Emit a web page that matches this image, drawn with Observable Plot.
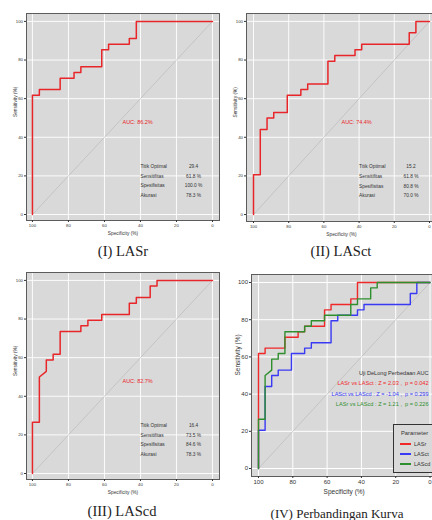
<!DOCTYPE html>
<html><head><meta charset="utf-8">
<script src="https://cdn.jsdelivr.net/npm/d3@7"></script>
<script src="https://cdn.jsdelivr.net/npm/@observablehq/plot@0.6"></script>
<style>
html,body{margin:0;padding:0;background:#fff;overflow:hidden;width:432px;height:520px}
#root{position:relative;width:432px;height:520px;overflow:hidden;background:#fff}
.panel{position:absolute}
.panel svg{overflow:visible;max-width:none !important}
.cap{position:absolute;font-family:"Liberation Serif","Times New Roman",serif;font-size:14.5px;color:#222;white-space:nowrap;transform:translate(-50%,-50%)}
.legend{position:absolute;left:393px;top:424px;width:60px;height:47px;border:1px solid #333;background:#d9d9d9;font-family:"Liberation Sans",Arial,sans-serif;font-size:5.5px;color:#333}
.legend .t{position:absolute;left:7px;top:5px;font-size:5.8px}
.legend .row{position:absolute;left:6px;height:8px}
.legend .sw{position:absolute;left:0;top:3px;width:11px;height:0;border-top:2px solid}
.legend .lb{position:absolute;left:14px;top:0;line-height:8px}
</style></head><body><div id="root"></div>
<script>
// ---------- data ----------
const specTicks = [100, 80, 60, 40, 20, 0];
const sensTicks = [0, 20, 40, 60, 80, 100];
const seriesNames = ["LASr", "LASct", "LAScd"];
const seriesColors = ["#f0282a", "#3a3af5", "#2f8f2f"];

const lasrSpec = [100, 100, 96.15, 96.15, 84.6, 84.6, 76.9, 76.9, 73.1, 73.1, 61.5, 61.5, 57.7, 57.7, 46.2, 46.2, 42.3, 42.3, 0];
const lasrSens = [0, 61.8, 61.8, 64.7, 64.7, 70.6, 70.6, 73.5, 73.5, 76.5, 76.5, 85.3, 85.3, 88.2, 88.2, 91.2, 91.2, 100, 100];

const lasctSpec = [100, 100, 96.15, 96.15, 92.3, 92.3, 88.5, 88.5, 80.8, 80.8, 73.1, 73.1, 69.2, 69.2, 57.7, 57.7, 53.8, 53.8, 42.3, 42.3, 38.5, 38.5, 11.5, 11.5, 7.7, 7.7, 0];
const lasctSens = [0, 20.6, 20.6, 44.1, 44.1, 50, 50, 52.9, 52.9, 61.8, 61.8, 64.7, 64.7, 67.6, 67.6, 79.4, 79.4, 82.4, 82.4, 85.3, 85.3, 88.2, 88.2, 94.1, 94.1, 100, 100];

const lascdSpec = [100, 100, 96.15, 96.15, 92.3, 92.3, 88.5, 88.5, 84.6, 84.6, 73.1, 73.1, 69.2, 69.2, 61.5, 61.5, 46.2, 46.2, 42.3, 42.3, 34.6, 34.6, 30.8, 30.8, 0];
const lascdSens = [0, 26.5, 26.5, 50, 52.9, 58.8, 58.8, 61.8, 61.8, 73.5, 73.5, 76.5, 76.5, 79.4, 79.4, 82.4, 82.4, 88.2, 88.2, 91.2, 91.2, 97.1, 97.1, 100, 100];

const diagSpec = [100, 0];
const diagSens = [0, 100];

const aucLabels = ["AUC: 86.2%", "AUC: 74.4%", "AUC: 82.7%"];
const tableLabels = ["Titik Optimal", "Sensitifitas", "Spesifisitas", "Akurasi"];
const lasrTable = ["29.4", "61.8 %", "100.0 %", "78.3 %"];
const lasctTable = ["15.2", "61.8 %", "80.8 %", "70.0 %"];
const lascdTable = ["16.4", "73.5 %", "84.6 %", "78.3 %"];

const delongTitle = "Uji DeLong Perbedaan AUC";
const delongLines = [
  "LASr vs LASct : Z = 2.03 ,  p = 0.042",
  "LASct vs LAScd : Z = -1.04 ,  p = 0.299",
  "LASr vs LAScd : Z = 1.21 ,  p = 0.226"
];
const legendTitle = "Parameter";
const captions = ["(I) LASr", "(II) LASct", "(III) LAScd", "(IV) Perbandingan Kurva"];

// ---------- helpers ----------
const rows = (xs, ys) => xs.map((x, i) => ({spec: x, sens: ys[i]}));
const curves = [rows(lasrSpec, lasrSens), rows(lasctSpec, lasctSens), rows(lascdSpec, lascdSens)];
const diag = rows(diagSpec, diagSens);
const GREY = "#d9d9d9";
const FONT = "'Liberation Sans', Arial, sans-serif";

function panel(cfg) {
  const marks = [
    Plot.frame({fill: GREY}),
    Plot.gridX({ticks: specTicks, stroke: "#fff", strokeOpacity: 1, strokeWidth: cfg.gw}),
    Plot.gridY({ticks: sensTicks, stroke: "#fff", strokeOpacity: 1, strokeWidth: cfg.gw}),
    Plot.line(diag, {x: "spec", y: "sens", stroke: "#b5b5b5", strokeWidth: 0.6}),
    ...cfg.series.map(k => Plot.line(curves[k], {x: "spec", y: "sens", stroke: cfg.color || seriesColors[k], strokeWidth: cfg.lw})),
    Plot.frame({stroke: "#5c5c5c", strokeWidth: 1}),
    Plot.axisX({ticks: specTicks, tickSize: 2, tickPadding: 1.5, fontSize: cfg.fs, label: null}),
    Plot.axisY({ticks: sensTicks, tickSize: 2, tickPadding: 1.5, fontSize: cfg.fs, label: null}),
    Plot.text(["Specificity (%)"], {text: d => d, frameAnchor: "bottom", dy: cfg.xl, fontSize: cfg.lfs}),
    Plot.text(["Sensitivity (%)"], {text: d => d, frameAnchor: "left", dx: cfg.yl, rotate: -90, fontSize: cfg.lfs}),
    ...(cfg.extra || [])
  ];
  const svg = Plot.plot({
    width: cfg.width, height: cfg.height,
    marginLeft: cfg.mL, marginRight: cfg.mR, marginTop: cfg.mT, marginBottom: cfg.mB,
    x: {domain: cfg.xd},
    y: {domain: cfg.yd},
    color: {type: "identity"},
    style: {background: "transparent", fontFamily: FONT, color: "#333", overflow: "visible", maxWidth: "none"},
    marks
  });
  svg.style.maxWidth = "none";
  svg.style.width = cfg.width + "px";
  svg.style.height = cfg.height + "px";
  const div = document.createElement("div");
  div.className = "panel";
  div.style.left = cfg.left + "px";
  div.style.top = cfg.top + "px";
  div.style.width = cfg.width + "px";
  div.style.height = cfg.height + "px";
  div.appendChild(svg);
  document.getElementById("root").appendChild(div);
}

function tableMarks(auc, values) {
  return [
    Plot.text([auc], {text: d => d, x: 50, y: 48, textAnchor: "start", fill: "#e8262a", fontSize: 5.5}),
    Plot.text(tableLabels, {text: d => d, x: 40, y: (d, i) => 25 - 5.1 * i, textAnchor: "start", fill: "#333", fontSize: 4.8}),
    Plot.text(values, {text: d => d, x: 10.5, y: (d, i) => 25 - 5.1 * i, textAnchor: "middle", fill: "#333", fontSize: 4.8})
  ];
}

const small = {gw: 0.9, lw: 1.5, fs: 4.3, lfs: 4.8, xl: 14, yl: -11, color: "#e8262a"};

// Panel I
panel({...small, series: [0], left: 0, top: 0, width: 220, height: 240, mL: 26, mR: 1, mT: 13, mB: 20,
  xd: [103.3, -3.9], yd: [-3.1, 104.1], extra: tableMarks(aucLabels[0], lasrTable)});
// Panel II
panel({...small, series: [1], left: 216, top: 0, width: 230, height: 240, mL: 30, mR: 10, mT: 13, mB: 19,
  xd: [103.98, -4], yd: [-3.6, 104.1], extra: tableMarks(aucLabels[1], lasctTable)});
// Panel III
panel({...small, series: [2], left: 0, top: 259, width: 220, height: 240, mL: 26, mR: 1, mT: 13, mB: 20,
  xd: [103.3, -3.9], yd: [-3.1, 104.1], extra: tableMarks(aucLabels[2], lascdTable)});
// Panel IV
panel({gw: 1, lw: 1.4, fs: 6, lfs: 6.5, xl: 17, yl: -13.5, series: [0, 1, 2],
  left: 216, top: 260, width: 230, height: 245, mL: 35, mR: 9.6, mT: 14, mB: 29,
  xd: [104.08, -4], yd: [-4.3, 104.3],
  extra: [
    Plot.text([delongTitle], {text: d => d, x: 0, dx: -1.5, y: 51, textAnchor: "end", fill: "#333", fontSize: 5.6}),
    Plot.text(delongLines, {text: d => d, x: 0, dx: -1.5, y: (d, i) => 45.6 - 5.6 * i, textAnchor: "end", fill: (d, i) => seriesColors[i], fontSize: 5.6})
  ]});

// captions
const capPos = [[123, 251], [341, 251], [122, 511], [337, 514]];
const capSize = [14.5, 14.5, 14.5, 13];
captions.forEach((c, i) => {
  const d = document.createElement("div");
  d.className = "cap";
  d.textContent = c;
  d.style.left = capPos[i][0] + "px";
  d.style.top = capPos[i][1] + "px";
  d.style.fontSize = capSize[i] + "px";
  document.getElementById("root").appendChild(d);
});

// legend (panel IV)
const lg = document.createElement("div");
lg.className = "legend";
lg.innerHTML = `<div class="t">${legendTitle}</div>` + seriesNames.map((n, i) =>
  `<div class="row" style="top:${15 + i * 10}px"><div class="sw" style="border-color:${seriesColors[i]}"></div><div class="lb">${n}</div></div>`).join("");
document.getElementById("root").appendChild(lg);
</script>
</body></html>
